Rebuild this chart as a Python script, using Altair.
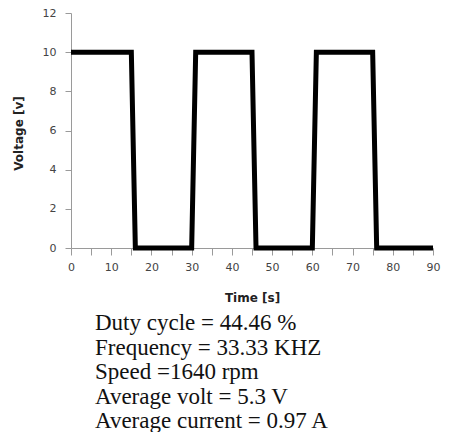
import altair as alt
import pandas as pd

# Waveform data
time_s = [0, 15, 16, 30, 31, 45, 46, 60, 61, 75, 76, 90]
voltage_v = [10, 10, 0, 0, 10, 10, 0, 0, 10, 10, 0, 0]

x_ticks = list(range(0, 91, 5))
y_ticks = [0, 2, 4, 6, 8, 10, 12]

info_lines = [
    "Duty cycle = 44.46 %",
    "Frequency = 33.33 KHZ",
    "Speed =1640 rpm",
    "Average volt =  5.3 V",
    "Average current = 0.97 A",
]

df = pd.DataFrame({"t": time_s, "v": voltage_v, "i": list(range(len(time_s)))})

axis_common = dict(
    grid=False,
    domainColor="#9a9a9a",
    tickColor="#9a9a9a",
    labelColor="#444444",
    labelFont="DejaVu Sans",
    labelFontSize=11,
    titleFont="DejaVu Sans",
    titleFontSize=12,
    titleFontWeight="bold",
    titleColor="#222222",
)

W = 362
H = 235

line = alt.Chart(df).mark_line(
    color="black", strokeWidth=5, strokeJoin="miter", strokeCap="butt"
).encode(
    x=alt.X(
        "t:Q",
        scale=alt.Scale(domain=[0, 90], nice=False),
        axis=alt.Axis(
            title="Time [s]",
            values=x_ticks,
            labelExpr="datum.value % 10 == 0 ? datum.label : ''",
            tickSize=7,
            labelPadding=6,
            labelFlush=False,
            titleX=W / 2,
            titleY=49,
            titleBaseline="middle",
            **axis_common,
        ),
    ),
    y=alt.Y(
        "v:Q",
        scale=alt.Scale(domain=[0, 12], nice=False),
        axis=alt.Axis(
            title="Voltage [v]",
            values=y_ticks,
            tickSize=6,
            labelPadding=9,
            titleX=-53,
            titleY=120,
            titleBaseline="middle",
            titleAngle=-90,
            **axis_common,
        ),
    ),
    order="i:Q",
)

info = alt.Chart(pd.DataFrame({"k": [0]})).mark_text(
    align="left",
    baseline="alphabetic",
    font="Liberation Serif",
    fontSize=23,
    lineHeight=24.5,
    color="#111111",
).encode(
    x=alt.value(24),
    y=alt.value(317),
    text=alt.value(info_lines),
)

chart = alt.layer(line, info).properties(
    width=W,
    height=H,
    autosize=alt.AutoSizeParams(type="none"),
    padding={"left": 63, "top": 5, "right": 8, "bottom": 184},
).configure_view(stroke=None)

chart.save("out.html", embed_options={"renderer": "svg", "actions": False})
